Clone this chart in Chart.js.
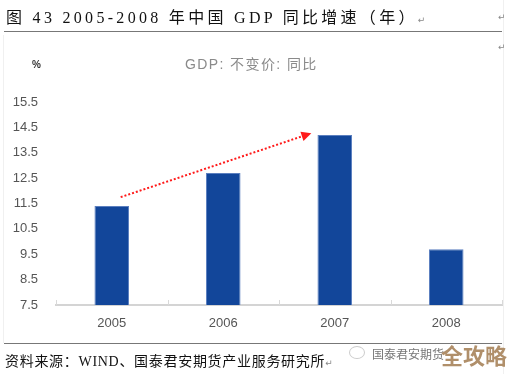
<!DOCTYPE html>
<html>
<head>
<meta charset="utf-8">
<script src="https://cdn.jsdelivr.net/npm/chart.js@4"></script>
<style>
  html, body { margin: 0; padding: 0; background: #fff; }
  #page { position: relative; width: 508px; height: 374px; overflow: hidden; background: #fff; }
  #page canvas { position: absolute; left: 0; top: 0; }
  .txt { position: absolute; white-space: nowrap; }
  .title { left: 6px; top: 4px; font: 16px "Liberation Serif", "Noto Sans CJK SC", serif; color: #111; letter-spacing: 3.3px; }
  .sub { left: 185px; top: 53px; font: 14px "Liberation Sans", "Noto Sans CJK SC", sans-serif; color: #8a8a8a; letter-spacing: 1.4px; }
  .unit { left: 32px; top: 59px; font: bold 10px "Liberation Sans", sans-serif; color: #333; }
  .source { left: 5px; top: 350px; font: 14px "Liberation Serif", "Noto Sans CJK SC", serif; color: #111; letter-spacing: 0.7px; }
  .mark { font: 9px "DejaVu Sans", sans-serif; color: #888; letter-spacing: 0; }
  .hline { position: absolute; left: 4px; width: 498px; height: 1px; background: #777; }
  .vline { position: absolute; width: 1px; background: #f0f0f0; }
  .wm1 { left: 372px; top: 345px; font: 12px "Noto Sans CJK SC", sans-serif; color: #777; }
  .wm2 { left: 441px; top: 338px; font: bold 22px "Noto Sans CJK SC", sans-serif; color: #b08f6a; }
  .wmicon { position: absolute; left: 349px; top: 346px; width: 14px; height: 11px; border: 1px solid #ccc; border-radius: 50%; }
</style>
</head>
<body>
<div id="page">
  <canvas id="myChart" width="508" height="374"></canvas>
  <div class="vline" style="left:3px; top:35px; height:308px;"></div>
  <div class="vline" style="left:503px; top:0; height:374px;"></div>
  <div class="txt title">图 43 2005-2008 年中国 GDP 同比增速（年）<span class="mark">↵</span></div>
  <div class="hline" style="top:31px;"></div>
  <div class="txt mark" style="left:498px; top:12px;">↵</div>
  <div class="txt mark" style="left:498px; top:42px;">↵</div>
  <div class="txt sub">GDP: 不变价: 同比</div>
  <div class="txt unit">%</div>
  <div class="hline" style="top:343px;"></div>
  <div class="txt source">资料来源：WIND、国泰君安期货产业服务研究所<span class="mark">↵</span></div>
  <div class="wmicon"></div>
  <div class="txt wm1">国泰君安期货</div>
  <div class="txt wm2">全攻略</div>
</div>
<script>
// 数据
const years = ['2005', '2006', '2007', '2008'];
const gdpGrowth = [11.4, 12.7, 14.2, 9.7];
const yTicks = [7.5, 8.5, 9.5, 10.5, 11.5, 12.5, 13.5, 14.5, 15.5];
// 趋势箭头（类别索引, 数值）
const arrowFrom = [0.08, 11.75];
const arrowTo = [1.79, 14.27];

// 箭头和刻度线
const extras = {
    id: 'extras',
    afterDatasetsDraw(chart) {
        const ctx = chart.ctx;
        const x = chart.scales.x, y = chart.scales.y;
        const area = chart.chartArea;

        // 类别之间的小刻度
        ctx.save();
        ctx.strokeStyle = '#d9d9d9';
        ctx.lineWidth = 1;
        for (let i = 0; i <= years.length; i++) {
            const px = Math.round(x.getPixelForValue(i - 0.5)) + 0.5;
            ctx.beginPath();
            ctx.moveTo(px, area.bottom);
            ctx.lineTo(px, area.bottom - 5);
            ctx.stroke();
        }
        ctx.restore();

        const x1 = x.getPixelForValue(arrowFrom[0]), y1 = y.getPixelForValue(arrowFrom[1]);
        const x2 = x.getPixelForValue(arrowTo[0]), y2 = y.getPixelForValue(arrowTo[1]);
        const ang = Math.atan2(y2 - y1, x2 - x1);
        const head = 11;
        ctx.save();
        ctx.strokeStyle = '#ff1a1a';
        ctx.fillStyle = '#ff1a1a';
        ctx.lineWidth = 2;
        ctx.setLineDash([2, 2]);
        ctx.beginPath();
        ctx.moveTo(x1, y1);
        ctx.lineTo(x2 - head * Math.cos(ang), y2 - head * Math.sin(ang));
        ctx.stroke();
        ctx.setLineDash([]);
        ctx.beginPath();
        ctx.moveTo(x2, y2);
        ctx.lineTo(x2 - head * Math.cos(ang - 0.45), y2 - head * Math.sin(ang - 0.45));
        ctx.lineTo(x2 - head * Math.cos(ang + 0.45), y2 - head * Math.sin(ang + 0.45));
        ctx.closePath();
        ctx.fill();
        ctx.restore();
    }
};

const data = {
    labels: years,
    datasets: [{
        label: 'GDP: 不变价: 同比',
        data: gdpGrowth,
        backgroundColor: '#12469a',
        borderColor: '#5b7fbf',
        borderWidth: 1,
        categoryPercentage: 1,
        barPercentage: 0.31
    }]
};

const config = {
    type: 'bar',
    data: data,
    options: {
        responsive: false,
        animation: false,
        layout: { padding: { top: 102, right: 6, bottom: 0, left: 0 } },
        plugins: {
            legend: { display: false },
            tooltip: { enabled: false }
        },
        scales: {
            x: {
                grid: { display: false, drawTicks: false },
                border: { display: true, color: '#d4d4d4', width: 2 },
                ticks: {
                    color: '#555',
                    font: { family: 'Liberation Sans', size: 13 },
                    padding: 11
                },
                afterFit(scale) { scale.height = 69; }
            },
            y: {
                min: 7.5,
                max: 15.5,
                afterBuildTicks(scale) { scale.ticks = yTicks.map(v => ({ value: v })); },
                grid: { display: false, drawTicks: false },
                border: { display: false },
                ticks: {
                    color: '#555',
                    font: { family: 'Liberation Sans', size: 13 },
                    padding: 18,
                    callback: v => v.toFixed(1)
                },
                afterFit(scale) { scale.width = 56; }
            }
        }
    },
    plugins: [extras]
};

new Chart(document.getElementById('myChart'), config);
</script>
</body>
</html>
